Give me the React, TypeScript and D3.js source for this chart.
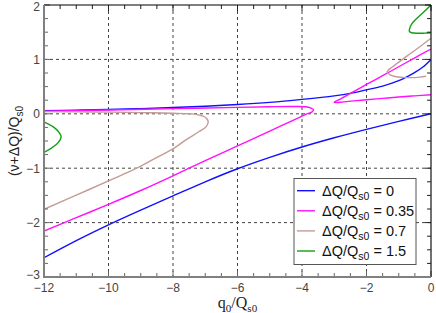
import React from "react";
import * as d3 from "d3";

type P = [number, number];

const xTicks = [-12, -10, -8, -6, -4, -2, 0];
const yTicks = [-3, -2, -1, 0, 1, 2];
const xGrid = [-10, -8, -6, -4, -2];
const yGrid = [-2, -1, 0, 1];

const legendLabels = ["0", "0.35", "0.7", "1.5"];
const colors = ["#1010ff", "#ff10ff", "#c29c95", "#12a012"];

const blueUpper: P[] = [[-12,0.057],[-11,0.068],[-10,0.08],[-9,0.095],[-8,0.115],[-7,0.14],[-6,0.17],[-5,0.21],[-4,0.265],[-3,0.33],[-2.5,0.375],[-2,0.44],[-1.5,0.51],[-1,0.61],[-0.75,0.68],[-0.5,0.76],[-0.25,0.86],[0,1.0]];
const blueLower: P[] = [[-12,-2.645],[-11,-2.33],[-10,-2.04],[-9,-1.77],[-8,-1.51],[-7,-1.25],[-6,-1.01],[-5,-0.8],[-4,-0.61],[-3,-0.44],[-2,-0.285],[-1,-0.14],[0,0]];

const pinkLeft: P[] = [[-12,0.05],[-10,0.07],[-8,0.095],[-6,0.118],[-5,0.13],[-4.3,0.135],[-3.9,0.13],[-3.72,0.105],[-3.64,0.07],[-3.7,0.03],[-3.85,0.0],[-4.06,-0.06],[-4.5,-0.18],[-5,-0.32],[-6,-0.59],[-7,-0.86],[-8,-1.14],[-9,-1.41],[-10,-1.665],[-11,-1.91],[-12,-2.155]];
const pinkRight: P[] = [[0,1.19],[-0.5,1.03],[-1,0.865],[-1.5,0.7],[-2,0.54],[-2.5,0.375],[-2.85,0.26],[-3.0,0.215],[-2.95,0.205],[-2.7,0.22],[-2.3,0.243],[-2,0.258],[-1.5,0.283],[-1,0.308],[-0.5,0.33],[0,0.35]];

const tanLeft: P[] = [[-12,0.04],[-11,0.035],[-10,0.03],[-9,0.022],[-8,0.01],[-7.5,0.0],[-7.25,-0.015],[-7.02,-0.055],[-6.91,-0.14],[-6.97,-0.235],[-7.2,-0.33],[-7.6,-0.48],[-8,-0.645],[-8.5,-0.8],[-9,-0.96],[-9.5,-1.1],[-10,-1.235],[-11,-1.495],[-12,-1.755]];
const tanRight: P[] = [[0,1.39],[-0.4,1.21],[-0.75,1.06],[-1.0,0.95],[-1.2,0.86],[-1.33,0.8],[-1.36,0.765],[-1.28,0.72],[-1.12,0.685],[-0.9,0.67],[-0.6,0.665],[-0.35,0.675],[-0.15,0.69]];

const greenLeft: P[] = [[-12.05,-0.14],[-11.94,-0.165],[-11.71,-0.24],[-11.55,-0.33],[-11.47,-0.41],[-11.5,-0.48],[-11.61,-0.56],[-11.81,-0.645],[-12,-0.71],[-12.05,-0.73]];
const greenRight: P[] = [[0.1,2.06],[0,2.0],[-0.3,1.83],[-0.5,1.72],[-0.6,1.65],[-0.66,1.57],[-0.67,1.515],[-0.6,1.49],[-0.4,1.48],[-0.2,1.483],[0,1.49]];

const series: { pts: P[]; c: number }[] = [
  { pts: blueUpper, c: 0 }, { pts: blueLower, c: 0 },
  { pts: pinkLeft, c: 1 }, { pts: pinkRight, c: 1 },
  { pts: tanLeft, c: 2 }, { pts: tanRight, c: 2 },
  { pts: greenLeft, c: 3 }, { pts: greenRight, c: 3 },
];

const L = 44, R = 431, T = 5, B = 277;

export default function App() {
  const x = d3.scaleLinear().domain([-12, 0]).range([L, R]);
  const y = d3.scaleLinear().domain([-3, 2]).range([B, T]);
  const line = d3.line<P>().x(d => x(d[0])).y(d => y(d[1])).curve(d3.curveCatmullRom.alpha(0.5));
  const xMinor = d3.range(-12, 0.001, 0.5);
  const yMinor = d3.range(-3, 2.001, 0.25);
  const font = "'Liberation Sans', Arial, sans-serif";
  return (
    <svg width={436} height={313} style={{ position: "absolute", left: 0, top: 0, background: "#fff" }}>
      <defs>
        <clipPath id="pc"><rect x={L} y={T} width={R - L} height={B - T} /></clipPath>
      </defs>
      <rect width={436} height={313} fill="#fff" />
      {xGrid.map(v => (
        <line key={"gx" + v} x1={x(v)} x2={x(v)} y1={T} y2={B} stroke="#444" strokeWidth={1} strokeDasharray="3,3" />
      ))}
      {yGrid.map(v => (
        <line key={"gy" + v} x1={L} x2={R} y1={y(v)} y2={y(v)} stroke="#444" strokeWidth={1} strokeDasharray="3,3" />
      ))}
      <g clipPath="url(#pc)">
        {series.map((s, i) => (
          <path key={i} d={line(s.pts) || ""} fill="none" stroke={colors[s.c]} strokeWidth={1.4} />
        ))}
      </g>
      {xMinor.map(v => (
        <g key={"tx" + v}>
          <line x1={x(v)} x2={x(v)} y1={B} y2={B - (Number.isInteger(v / 2) ? 6 : 4)} stroke="#666" />
          <line x1={x(v)} x2={x(v)} y1={T} y2={T + (Number.isInteger(v / 2) ? 6 : 4)} stroke="#222" />
        </g>
      ))}
      {yMinor.map(v => (
        <g key={"ty" + v}>
          <line x1={L} x2={L + (Number.isInteger(v) ? 6 : 4)} y1={y(v)} y2={y(v)} stroke="#666" />
          <line x1={R} x2={R - (Number.isInteger(v) ? 6 : 4)} y1={y(v)} y2={y(v)} stroke="#222" />
        </g>
      ))}
      <line x1={L} x2={R} y1={T} y2={T} stroke="#000" strokeWidth={1.2} />
      <line x1={R} x2={R} y1={T} y2={B} stroke="#111" strokeWidth={1.2} />
      <line x1={L} x2={L} y1={T} y2={B + 1} stroke="#808080" strokeWidth={2} />
      <line x1={L - 1} x2={R} y1={B} y2={B} stroke="#808080" strokeWidth={2} />
      {xTicks.map(v => (
        <text key={"lx" + v} x={x(v)} y={292} textAnchor="middle" fontFamily={font} fontSize={12} fill="#444">
          {v < 0 ? "\u2212" + Math.abs(v) : String(v)}
        </text>
      ))}
      {yTicks.map(v => (
        <text key={"ly" + v} x={40} y={Math.min(Math.max(y(v) + 4.3, 11.2), 278.5)} textAnchor="end" fontFamily={font} fontSize={12} fill="#444">
          {v < 0 ? "\u2212" + Math.abs(v) : String(v)}
        </text>
      ))}
      <text x={(L + R) / 2} y={308} textAnchor="middle" fontFamily="'Liberation Serif', 'Times New Roman', serif" fontSize={16} fill="#222">
        q<tspan fontSize={11} dy={4}>0</tspan><tspan dy={-4}>/Q</tspan><tspan fontSize={11} dy={4}>s0</tspan>
      </text>
      <text transform={`translate(19,${(T + B) / 2}) rotate(-90)`} textAnchor="middle" fontFamily={font} fontSize={14} fill="#222">
        (ν+ΔQ)/Q<tspan fontSize={10} dy={4}>s0</tspan>
      </text>
      <rect x={294} y={178.5} width={122} height={86} fill="#fff" stroke="#555" strokeWidth={1} />
      {legendLabels.map((lab, i) => (
        <g key={"lg" + i}>
          <line x1={297} x2={315} y1={190.7 + i * 20.1} y2={190.7 + i * 20.1} stroke={colors[i]} strokeWidth={1.4} />
          <text x={322} y={195.5 + i * 20.1} fontFamily={font} fontSize={14.5} fill="#111">
            ΔQ/Q<tspan fontSize={10.5} dy={4}>s0</tspan><tspan dy={-4}>{" = " + lab}</tspan>
          </text>
        </g>
      ))}
    </svg>
  );
}
